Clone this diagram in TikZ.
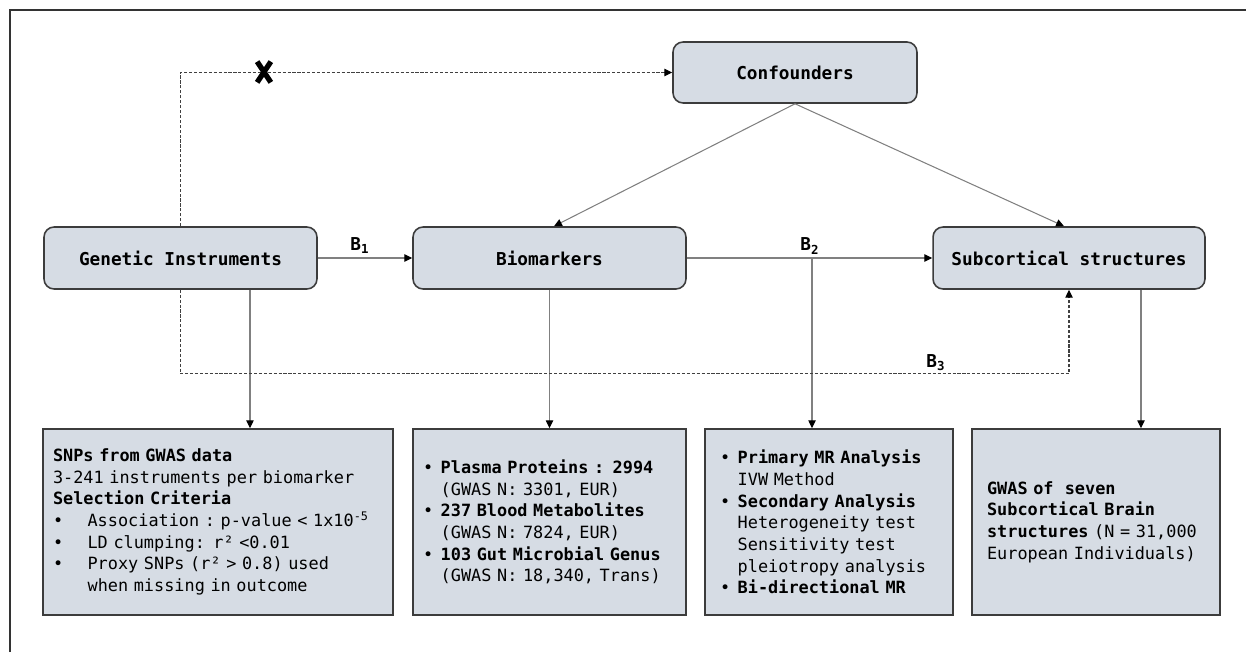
\documentclass[tikz,border=0pt]{standalone}
\usepackage{fontspec}
\setmainfont{DejaVu Sans Mono}[WordSpace={1,0,0}]
\usetikzlibrary{arrows.meta}
\usetikzlibrary{positioning}

\definecolor{boxfill}{RGB}{214,220,228}
\definecolor{boxedge}{RGB}{60,60,60}
\definecolor{linkgray}{RGB}{128,128,128}

\newcommand{\bul}{\makebox[1.05em][l]{\textbullet}}
\newcommand{\wbul}{\makebox[2.05em][l]{\textbullet}}

\begin{document}
\begin{tikzpicture}[x=0.02cm, y=-0.02cm,
    head/.style={draw=boxedge, fill=boxfill, line width=0.9pt, rounded corners=0.2cm,
      minimum width=5.46cm, minimum height=1.24cm, inner sep=0pt,
      font=\fontsize{10.1}{12}\selectfont\bfseries},
    info/.style={draw=boxedge, fill=boxfill, line width=0.9pt, minimum height=3.72cm,
      inner sep=0pt, align=left, font=\fontsize{9.6}{12.35}\selectfont},
    link/.style={draw=linkgray, line width=0.6pt,
      -{Triangle[length=4.5pt,width=4.2pt,color=black]}},
    dashlink/.style={draw=black!75, line width=0.6pt, dash pattern=on 1.8pt off 1pt,
      -{Triangle[length=4.5pt,width=4.2pt,color=black]}},
    lbl/.style={font=\fontsize{10.1}{12}\selectfont\bfseries, inner sep=1pt},
    cut/.style={minimum width=0.26cm, minimum height=0.4cm, inner sep=0pt}]
  \useasboundingbox (0,0) rectangle (1246,652);
  \draw[line width=0.9pt, draw=black!80] (10,652) -- (10,10) -- (1246,10);

  % top row
  \node[head, minimum width=4.88cm, minimum height=1.22cm] (conf) at (795,72.5) {Confounders};
  \node[head] (gen) at (180.5,258) {Genetic Instruments};
  \node[head] (bio) at (549.5,258) {Biomarkers};
  \node[head, minimum width=5.44cm] (sub) at (1069,258) {Subcortical structures};

  % detail boxes
  \node[info, minimum width=7cm, text width=6.6cm] (snp) at (218,522) {%
    \textbf{SNPs from GWAS data}\\
    3-241 instruments per biomarker\\
    \textbf{Selection Criteria}\\
    \wbul Association~:~p-value~<~1x10\textsuperscript{-5}\\
    \wbul LD clumping: r² <0.01\\
    \wbul Proxy SNPs (r² > 0.8) used\\
    \hspace*{2.05em}when missing in outcome};
  \node[info, minimum width=5.46cm, text width=5.06cm] (data) at (549.5,522) {%
    \bul\textbf{Plasma Proteins : 2994}\\
    \hspace*{1.05em}(GWAS N: 3301, EUR)\\
    \bul\textbf{237 Blood Metabolites}\\
    \hspace*{1.05em}(GWAS N: 7824, EUR)\\
    \bul\textbf{103 Gut Microbial Genus}\\
    \hspace*{1.05em}(GWAS~N:~18,340,~Trans)};
  \node[info, minimum width=4.96cm, text width=4.36cm] (mr) at (829,522) {%
    \bul\textbf{Primary MR Analysis}\\
    \hspace*{1.05em}IVW Method\\
    \bul\textbf{Secondary Analysis}\\
    \hspace*{1.05em}Heterogeneity test\\
    \hspace*{1.05em}Sensitivity test\\
    \hspace*{1.05em}pleiotropy analysis\\
    \bul\textbf{Bi-directional MR}};
  \node[info, minimum width=4.96cm, text width=4.36cm] (gwas) at (1096,522) {%
    \textbf{GWAS of\ \ seven}\\
    \textbf{Subcortical Brain}\\
    \textbf{structures} (N = 31,000\\
    European Individuals)};

  % path labels
  \node[lbl] (b1) at (360,246) {B\textsubscript{1}};
  \node[lbl] (b2lbl) at (810,246) {B\textsubscript{2}};
  \node[lbl] (b3) at (936,363) {B\textsubscript{3}};

  \coordinate (b2) at (812,258);
  \coordinate (gi-out) at ([xshift=1.39cm]gen.south);
  \coordinate (sub-out) at ([xshift=1.44cm]sub.south);

  % main chain
  \draw[link] (gen.east) -- (bio.west);
  \draw[link] (bio.east) -- (sub.west);
  \draw[link] (conf.south) -- ([xshift=0.09cm]bio.north);
  \draw[link] (conf.south) -- ([xshift=-0.1cm]sub.north);

  % down to the detail boxes
  \draw[link] (gi-out) -- (gi-out |- snp.north);
  \draw[link] (bio.south) -- (data.north);
  \draw[link] (b2) -- (b2 |- mr.north);
  \draw[link] (sub-out) -- (sub-out |- gwas.north);

  % no path through confounders, direct path B3
  \draw[dashlink] (gen.north) |- (conf.west);
  \draw[dashlink] (gen.south) -- ++(0,84) -| (sub.south);
  \node[cut] (nocause) at (264,72) {};
  \draw[line width=3pt] (nocause.north west) -- (nocause.south east)
    (nocause.north east) -- (nocause.south west);
\end{tikzpicture}
\end{document}
